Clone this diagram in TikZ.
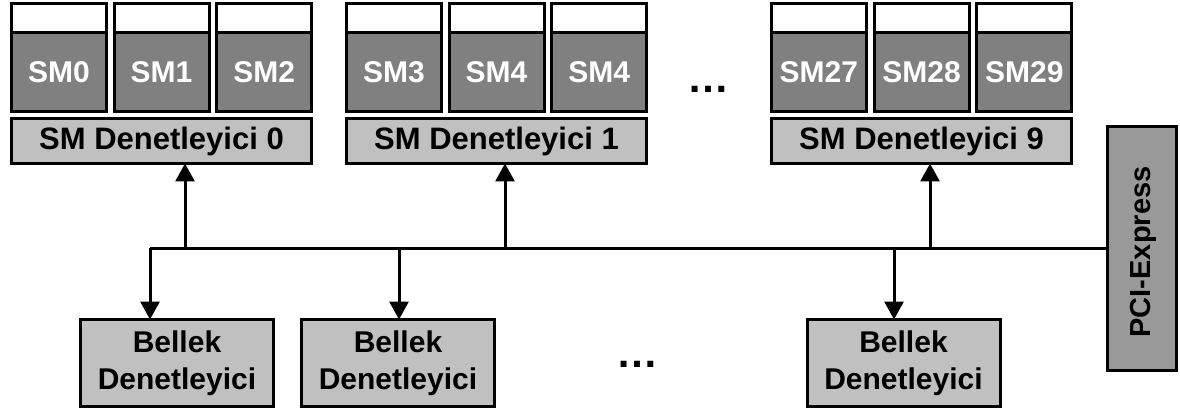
\documentclass[tikz,border=0pt]{standalone}
\usepackage{fontspec}
\setmainfont{Liberation Sans}
\usetikzlibrary{arrows.meta}
\definecolor{coregray}{HTML}{808080}
\definecolor{ctrlgray}{HTML}{C0C0C0}
\definecolor{busgray}{HTML}{999999}
\begin{document}
\begin{tikzpicture}[x=1pt,y=-1pt,
  box/.style={draw=black,line width=3pt,inner sep=0pt,outer sep=0pt},
  cache/.style={box,fill=white,minimum width=95pt,minimum height=29.5pt},
  smcore/.style={box,fill=coregray,minimum width=95pt,minimum height=78.5pt,
    text=white,font=\fontsize{30}{36}\selectfont\bfseries},
  smctrl/.style={box,fill=ctrlgray,minimum width=300pt,minimum height=45pt,
    font=\fontsize{31}{36}\selectfont\bfseries},
  memctrl/.style={box,fill=ctrlgray,minimum width=193pt,minimum height=87pt,
    align=center,font=\fontsize{30}{37}\selectfont\bfseries},
  pcibox/.style={box,fill=busgray,minimum width=69pt,minimum height=244pt},
  wire/.style={line width=3pt},
  arr/.style={wire,-{Triangle[width=19pt,length=18pt]}},
  dots/.style={font=\fontsize{42}{42}\selectfont\bfseries,inner sep=0pt}
]
\useasboundingbox (0,0) rectangle (1180,414);

% streaming multiprocessors: white top strip above a dark core
\foreach \x/\lab [count=\i from 0] in {58.85/SM0,161.55/SM1,264.25/SM2,
    393.85/SM3,496.55/SM4,599.25/SM4,818.85/SM27,921.55/SM28,1024.25/SM29}{
  \node[cache] (c\i) at (\x,18.25) {};
  \node[smcore] (sm\i) at (\x,72.25) {\lab};
}

% SM controllers
\node[smctrl] (ctrl0) at (161.5,141) {SM Denetleyici 0};
\node[smctrl] (ctrl1) at (496.5,141) {SM Denetleyici 1};
\node[smctrl] (ctrl9) at (921.5,141) {SM Denetleyici 9};
\node[dots] (dtop) at (708.5,89) {…};

% memory controllers
\node[memctrl] (mem0) at (177,363) {Bellek\\Denetleyici};
\node[memctrl] (mem1) at (398,363) {Bellek\\Denetleyici};
\node[memctrl] (mem2) at (903.5,363) {Bellek\\Denetleyici};
\node[dots] (dbot) at (637.5,364) {…};

% PCI-Express
\node[pcibox] (pci) at (1142,248.5) {};
\node[rotate=90,font=\fontsize{29}{34}\selectfont\bfseries,inner sep=0pt]
  (pcitext) at (1143,252) {PCI-Express};

% bus and its branches
\coordinate (d0) at (150,248);
\coordinate (d1) at (399,248);
\coordinate (d2) at (894,248);
\coordinate (u0) at (185,248);
\coordinate (u1) at (505,248);
\coordinate (u2) at (930,248);

\draw[wire] (d0) -- (pci.west |- d0);
\draw[arr] (u0) -- (u0 |- ctrl0.south);
\draw[arr] (u1) -- (u1 |- ctrl1.south);
\draw[arr] (u2) -- (u2 |- ctrl9.south);
\draw[arr] (d0) -- (d0 |- mem0.north);
\draw[arr] (d1) -- (d1 |- mem1.north);
\draw[arr] (d2) -- (d2 |- mem2.north);
\end{tikzpicture}
\end{document}
